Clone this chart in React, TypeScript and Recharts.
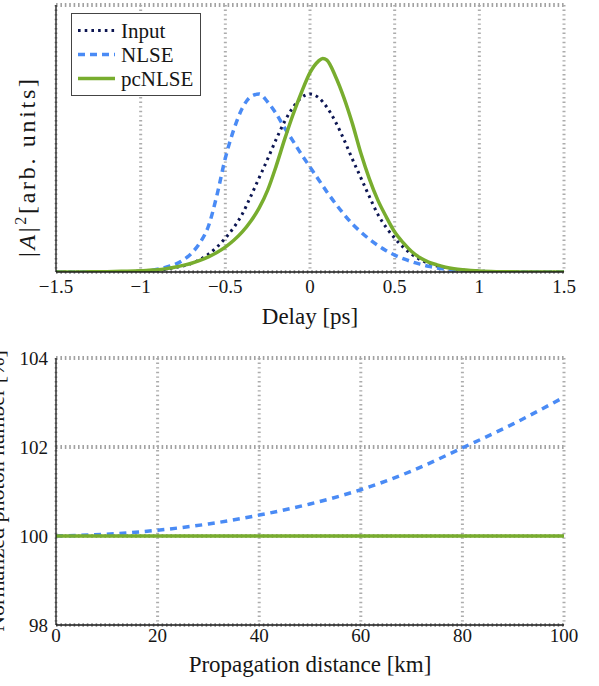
import React from "react";
import { LineChart, Line, XAxis, YAxis, CartesianGrid, Legend, Label } from "recharts";

// ---- top panel: pulse intensity vs delay ----
const delay = [
  -1.5, -1.4, -1.3, -1.2, -1.1, -1.0, -0.95, -0.9, -0.85, -0.8, -0.75, -0.7, -0.65,
  -0.6, -0.55, -0.5, -0.45, -0.4, -0.35, -0.3, -0.25, -0.2, -0.15, -0.1, -0.05, 0,
  0.05, 0.1, 0.15, 0.2, 0.25, 0.3, 0.35, 0.4, 0.45, 0.5, 0.55, 0.6, 0.65, 0.7, 0.75,
  0.8, 0.85, 0.9, 0.95, 1.0, 1.1, 1.2, 1.3, 1.4, 1.5,
];
const inputPower = [
  0, 0, 0, 0.001, 0.002, 0.005, 0.007, 0.011, 0.016, 0.024, 0.034, 0.048, 0.07,
  0.1, 0.14, 0.19, 0.25, 0.325, 0.425, 0.53, 0.635, 0.745, 0.845, 0.925, 0.98, 1.0,
  0.98, 0.925, 0.845, 0.745, 0.635, 0.53, 0.425, 0.325, 0.25, 0.19, 0.14, 0.1, 0.07,
  0.048, 0.034, 0.024, 0.016, 0.011, 0.007, 0.005, 0.002, 0.001, 0, 0, 0,
];
const nlsePower = [
  0, 0, 0, 0, 0.001, 0.003, 0.007, 0.015, 0.027, 0.042, 0.067, 0.105, 0.164,
  0.257, 0.43, 0.64, 0.8, 0.92, 0.985, 1.0, 0.955, 0.89, 0.81, 0.735, 0.66, 0.59,
  0.52, 0.45, 0.385, 0.325, 0.27, 0.225, 0.185, 0.15, 0.12, 0.095, 0.075, 0.058,
  0.044, 0.032, 0.023, 0.016, 0.011, 0.007, 0.004, 0.002, 0.001, 0, 0, 0, 0,
];
const pcDelay = [
  -1.5, -1.4, -1.3, -1.2, -1.1, -1.0, -0.95, -0.9, -0.85, -0.8, -0.75, -0.7, -0.65,
  -0.6, -0.55, -0.5, -0.45, -0.4, -0.35, -0.3, -0.25, -0.2, -0.15, -0.1, -0.05, 0,
  0.05, 0.075, 0.1, 0.15, 0.2, 0.25, 0.3, 0.35, 0.4, 0.45, 0.5, 0.55, 0.6, 0.65, 0.7,
  0.75, 0.8, 0.85, 0.9, 0.95, 1.0, 1.1, 1.2, 1.3, 1.4, 1.5,
];
const pcPower = [
  0, 0, 0.001, 0.002, 0.004, 0.007, 0.01, 0.013, 0.019, 0.027, 0.037, 0.049, 0.065,
  0.085, 0.11, 0.14, 0.178, 0.225, 0.285, 0.36, 0.46, 0.595, 0.745, 0.885, 1.01, 1.12,
  1.185, 1.2, 1.19, 1.1, 0.98, 0.835, 0.668, 0.525, 0.405, 0.31, 0.225, 0.165, 0.115,
  0.08, 0.056, 0.04, 0.027, 0.018, 0.012, 0.008, 0.005, 0.002, 0.001, 0, 0, 0,
];
const delayTicks = [-1.5, -1, -0.5, 0, 0.5, 1, 1.5];
const powerTicks = [0, 0.5, 1, 1.5];

// ---- bottom panel: photon number vs distance ----
const distance = [0, 10, 20, 30, 40, 50, 60, 70, 80, 90, 100];
const nlsePhotons = [100, 100.04, 100.13, 100.27, 100.47, 100.72, 101.04, 101.46, 101.98, 102.52, 103.12];
const pcPhotons = [100, 100, 100, 100, 100, 100, 100, 100, 100, 100, 100];
const distanceTicks = [0, 20, 40, 60, 80, 100];
const photonTicks = [98, 100, 102, 104];

const FONT = "'Liberation Serif', 'DejaVu Serif', serif";
const INK = "#161616";
const C_INPUT = "#0c1552";
const C_NLSE = "#4a8bf5";
const C_PC = "#78ad2e";

const W = 599;
const PLOT_L = 56;
const PLOT_R = 564;
const MID_X = (PLOT_L + PLOT_R) / 2;

const toPts = (xs: number[], ys: number[]) => xs.map((d, i) => ({ d, v: ys[i] }));
const inputData = toPts(delay, inputPower);
const nlseData = toPts(delay, nlsePower);
const pcData = toPts(pcDelay, pcPower);
const nlseDist = toPts(distance, nlsePhotons);
const pcDist = toPts(distance, pcPhotons);

// split each major interval into n minor steps
function subdivide(major: number[], n: number) {
  const out: number[] = [];
  for (let i = 0; i < major.length - 1; i++) {
    const step = (major[i + 1] - major[i]) / n;
    for (let k = 1; k < n; k++) out.push(major[i] + k * step);
  }
  return out;
}

const fmt = (v: number) => String(v).replace("-", "\u2212");
const tickText = { fontSize: 19, fill: INK, fontFamily: FONT };

// dotted grid, inward major/minor ticks on all four sides, top/right frame
function frame(xd: number[], yd: number[], xTicks: number[], yTicks: number[], xMinor: number[], yMinor: number[]) {
  const base = { type: "number" as const, allowDataOverflow: true, interval: 0 as const, tick: false as const, mirror: true };
  const major = { stroke: "#7a7a7a", strokeWidth: 1.2 };
  const minor = { stroke: "#4a4a4a", strokeWidth: 0.7 };
  const edge = { stroke: INK, strokeWidth: 1.3 };
  const inner = xTicks.slice(1, -1);
  const innerY = yTicks.slice(1, -1);
  return [
    <CartesianGrid key="gh" xAxisId="x" yAxisId="y" vertical={false} stroke="#a2a2a2" strokeWidth={4} strokeDasharray="1.6 2.8" />,
    <CartesianGrid key="gv" xAxisId="x" yAxisId="y" horizontal={false} stroke="#acacac" strokeWidth={3} strokeDasharray="1.4 3.2" />,
    <XAxis key="xb" xAxisId="xb" orientation="bottom" height={0} domain={xd} ticks={inner} tickSize={7} tickLine={major} axisLine={false} {...base} />,
    <XAxis key="xbm" xAxisId="xbm" orientation="bottom" height={0} domain={xd} ticks={xMinor} tickSize={2.5} tickLine={minor} axisLine={false} {...base} />,
    <XAxis key="xt" xAxisId="xt" orientation="top" height={0} domain={xd} ticks={inner} tickSize={7} tickLine={major} axisLine={edge} {...base} />,
    <XAxis key="xtm" xAxisId="xtm" orientation="top" height={0} domain={xd} ticks={xMinor} tickSize={2.5} tickLine={minor} axisLine={false} {...base} />,
    <YAxis key="yl" yAxisId="yl" orientation="left" width={0} domain={yd} ticks={innerY} tickSize={7} tickLine={major} axisLine={false} {...base} />,
    <YAxis key="ylm" yAxisId="ylm" orientation="left" width={0} domain={yd} ticks={yMinor} tickSize={2.5} tickLine={minor} axisLine={false} {...base} />,
    <YAxis key="yr" yAxisId="yr" orientation="right" width={0} domain={yd} ticks={innerY} tickSize={7} tickLine={major} axisLine={edge} {...base} />,
    <YAxis key="yrm" yAxisId="yrm" orientation="right" width={0} domain={yd} ticks={yMinor} tickSize={2.5} tickLine={minor} axisLine={false} {...base} />,
  ];
}

const legendRows = [
  { name: "Input", color: C_INPUT, dash: "2.6 4.1", width: 3 },
  { name: "NLSE", color: C_NLSE, dash: "7 5", width: 3.5 },
  { name: "pcNLSE", color: C_PC, dash: undefined, width: 3.5 },
];

function LegendBox() {
  return (
    <svg width={130} height={83} style={{ display: "block" }} fontFamily={FONT}>
      <rect x={0.5} y={0.5} width={129} height={82} fill="#fff" stroke="#444" strokeWidth={1} />
      {legendRows.map((r, i) => {
        const cy = 17.5 + i * 24;
        return (
          <g key={r.name}>
            <line x1={7} x2={44} y1={cy} y2={cy} stroke={r.color} strokeWidth={r.width} strokeDasharray={r.dash} />
            <text x={50} y={cy + 7} fontSize={21} fill={INK} fontFamily={FONT}>{r.name}</text>
          </g>
        );
      })}
    </svg>
  );
}

function PulsePanel() {
  return (
    <LineChart width={W} height={336} margin={{ top: 5, right: W - PLOT_R, bottom: 0, left: 0 }} style={{ fontFamily: FONT }}>
      {frame([-1.5, 1.5], [0, 1.5], delayTicks, powerTicks, subdivide(delayTicks, 20), subdivide(powerTicks, 20))}
      <XAxis xAxisId="x" dataKey="d" type="number" domain={[-1.5, 1.5]} allowDataOverflow ticks={delayTicks} interval={0}
        height={64} tickLine={false} tickSize={0} tickMargin={8} axisLine={{ stroke: INK, strokeWidth: 1.3 }}
        tick={tickText} tickFormatter={fmt}>
        <Label content={() => (
          <text x={MID_X} y={324} textAnchor="middle" fontSize={23} fill={INK} fontFamily={FONT}>Delay [ps]</text>
        )} />
      </XAxis>
      <YAxis yAxisId="y" type="number" domain={[0, 1.5]} allowDataOverflow ticks={powerTicks} interval={0}
        width={PLOT_L} tick={false} tickLine={false} axisLine={{ stroke: INK, strokeWidth: 1.3 }}>
        <Label content={() => (
          <text x={35} y={168} transform="rotate(-90 35 168)" textAnchor="middle" fontSize={24} fill={INK}
            fontFamily={FONT} textLength={178} lengthAdjust="spacing">
            |<tspan fontStyle="italic">A</tspan>|<tspan dy={-9} fontSize={16}>2</tspan>
            <tspan dy={9}>[arb. units]</tspan>
          </text>
        )} />
      </YAxis>
      <Line xAxisId="x" yAxisId="y" data={inputData} dataKey="v" type="monotone" stroke={C_INPUT} strokeWidth={3}
        strokeDasharray="2.6 4.1" dot={false} activeDot={false} isAnimationActive={false} />
      <Line xAxisId="x" yAxisId="y" data={nlseData} dataKey="v" type="monotone" stroke={C_NLSE} strokeWidth={3.5}
        strokeDasharray="7 5" dot={false} activeDot={false} isAnimationActive={false} />
      <Line xAxisId="x" yAxisId="y" data={pcData} dataKey="v" type="monotone" stroke={C_PC} strokeWidth={3.5}
        dot={false} activeDot={false} isAnimationActive={false} />
      <Legend layout="vertical" align="center" verticalAlign="middle"
        wrapperStyle={{ left: 71, top: 13, width: 130, height: 83 }} content={() => <LegendBox />} />
    </LineChart>
  );
}

function PhotonPanel() {
  return (
    <LineChart width={W} height={350} margin={{ top: 22, right: W - PLOT_R, bottom: 0, left: 0 }} style={{ fontFamily: FONT }}>
      {frame([0, 100], [98, 104], distanceTicks, photonTicks, subdivide(distanceTicks, 25), subdivide(photonTicks, 20))}
      <XAxis xAxisId="x" dataKey="d" type="number" domain={[0, 100]} allowDataOverflow ticks={distanceTicks} interval={0}
        height={61} tickLine={false} tickSize={0} tickMargin={4} axisLine={{ stroke: INK, strokeWidth: 1.3 }}
        tick={tickText}>
        <Label content={() => (
          <text x={MID_X} y={336} textAnchor="middle" fontSize={23} fill={INK} fontFamily={FONT}>Propagation distance [km]</text>
        )} />
      </XAxis>
      <YAxis yAxisId="y" type="number" domain={[98, 104]} allowDataOverflow ticks={photonTicks} interval={0}
        width={PLOT_L} tickLine={false} tickSize={0} tickMargin={8} axisLine={{ stroke: INK, strokeWidth: 1.3 }}
        tick={tickText}>
        <Label content={() => (
          <text x={4} y={155} transform="rotate(-90 4 155)" textAnchor="middle" fontSize={22} fill={INK} fontFamily={FONT}>
            Normalized photon number [%]
          </text>
        )} />
      </YAxis>
      <Line xAxisId="x" yAxisId="y" data={nlseDist} dataKey="v" type="monotone" stroke={C_NLSE} strokeWidth={3.5}
        strokeDasharray="7 5.7" dot={false} activeDot={false} isAnimationActive={false} />
      <Line xAxisId="x" yAxisId="y" data={pcDist} dataKey="v" type="monotone" stroke={C_PC} strokeWidth={3.5}
        dot={false} activeDot={false} isAnimationActive={false} />
    </LineChart>
  );
}

export default function App() {
  return (
    <div style={{ position: "absolute", left: 0, top: 0, width: W, height: 686, background: "#fff", fontFamily: FONT }}>
      <PulsePanel />
      <PhotonPanel />
    </div>
  );
}
